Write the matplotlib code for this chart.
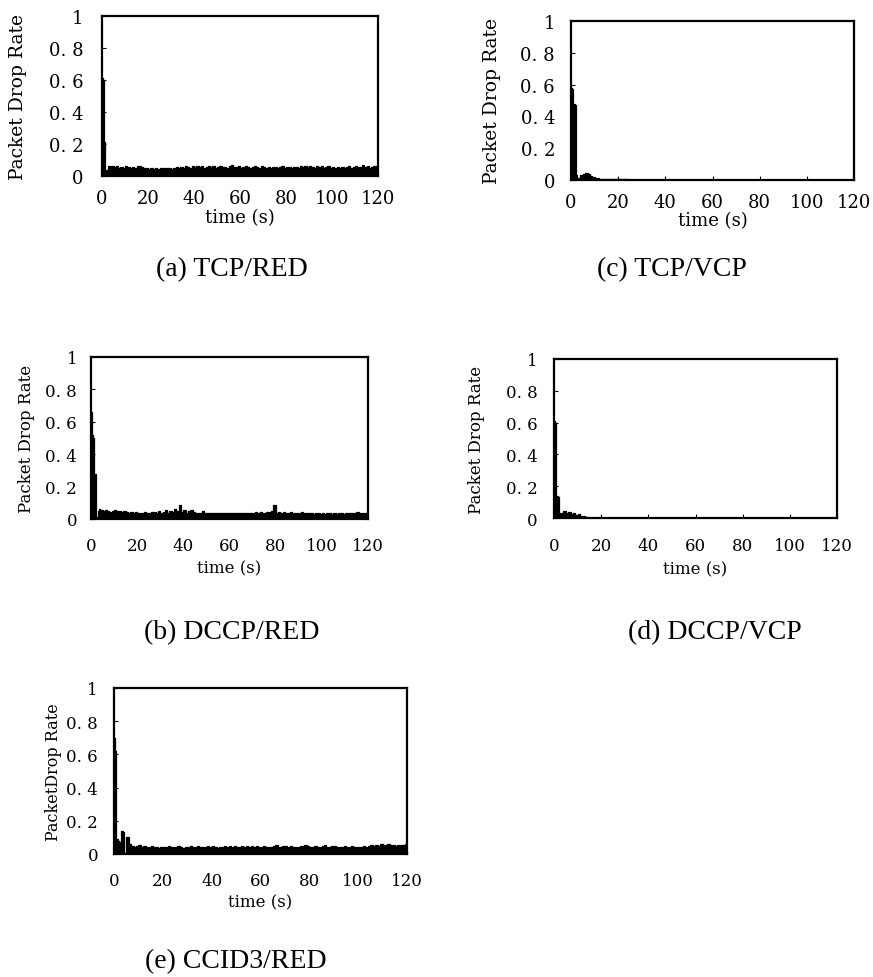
import matplotlib
matplotlib.use("Agg")
import matplotlib.pyplot as plt

# ---------------- data ----------------
time_s = [0, 0.5, 1, 1.5, 2, 2.5, 3, 3.5] + list(range(4, 121))

tcp_red = [0.61, 0.60, 0.21, 0.04, 0.02, 0.065, 0.06, 0.055,
           0.060, 0.055, 0.062, 0.050, 0.058, 0.052, 0.060, 0.055, 0.050, 0.058,
           0.052, 0.060, 0.065, 0.055, 0.050, 0.048, 0.045, 0.050, 0.046, 0.048,
           0.045, 0.050, 0.047, 0.052, 0.048, 0.050, 0.046, 0.052, 0.055, 0.050,
           0.058, 0.052, 0.060, 0.055, 0.050, 0.062, 0.058, 0.065, 0.055, 0.060,
           0.052, 0.058, 0.062, 0.055, 0.060, 0.050, 0.058, 0.063, 0.055, 0.058,
           0.052, 0.060, 0.066, 0.055, 0.058, 0.062, 0.052, 0.057, 0.060, 0.055,
           0.050, 0.058, 0.062, 0.055, 0.052, 0.060, 0.057, 0.050, 0.055, 0.052,
           0.058, 0.054, 0.050, 0.056, 0.060, 0.052, 0.055, 0.058, 0.050, 0.054,
           0.058, 0.052, 0.060, 0.055, 0.062, 0.058, 0.065, 0.056, 0.052, 0.060,
           0.055, 0.062, 0.050, 0.057, 0.060, 0.053, 0.058, 0.050, 0.055, 0.052,
           0.058, 0.050, 0.055, 0.060, 0.052, 0.057, 0.062, 0.055, 0.058, 0.066,
           0.055, 0.060, 0.052, 0.058, 0.062, 0.055, 0.060]

dccp_red = [0.66, 0.52, 0.50, 0.28, 0.01, 0.01, 0.05, 0.06,
            0.055, 0.050, 0.058, 0.052, 0.045, 0.050, 0.055, 0.048, 0.052, 0.045,
            0.048, 0.042, 0.040, 0.045, 0.038, 0.042, 0.035, 0.040, 0.038, 0.045,
            0.040, 0.035, 0.042, 0.045, 0.038, 0.050, 0.040, 0.045, 0.055, 0.040,
            0.048, 0.042, 0.060, 0.050, 0.085, 0.045, 0.055, 0.040, 0.050, 0.058,
            0.042, 0.038, 0.035, 0.040, 0.050, 0.036, 0.038, 0.035, 0.040, 0.034,
            0.036, 0.038, 0.035, 0.040, 0.036, 0.038, 0.034, 0.036, 0.040, 0.035,
            0.038, 0.036, 0.040, 0.037, 0.035, 0.040, 0.036, 0.042, 0.038, 0.045,
            0.040, 0.038, 0.042, 0.045, 0.050, 0.088, 0.040, 0.045, 0.038, 0.042,
            0.036, 0.040, 0.045, 0.038, 0.040, 0.036, 0.038, 0.042, 0.035, 0.038,
            0.034, 0.036, 0.032, 0.035, 0.038, 0.032, 0.035, 0.030, 0.034, 0.036,
            0.032, 0.035, 0.030, 0.034, 0.036, 0.032, 0.038, 0.034, 0.040, 0.035,
            0.038, 0.042, 0.036, 0.040, 0.035, 0.038, 0.040]

tcp_vcp = [0.58, 0.57, 0.48, 0.47, 0.03, 0.01, 0.012, 0.015,
           0.030, 0.035, 0.045, 0.040, 0.025, 0.020, 0.012, 0.010, 0.008, 0.008,
           0.008, 0.008, 0.007, 0.007, 0.006, 0.006, 0.006, 0.005, 0.005, 0.004,
           0.002, 0.002, 0.001, 0, 0, 0, 0, 0, 0, 0,
           0, 0, 0, 0, 0, 0, 0, 0, 0, 0,
           0, 0, 0, 0, 0, 0, 0, 0, 0, 0,
           0, 0, 0, 0, 0, 0, 0, 0, 0, 0,
           0, 0, 0, 0, 0, 0, 0, 0, 0, 0,
           0, 0, 0, 0, 0, 0, 0, 0, 0, 0,
           0, 0, 0, 0, 0, 0, 0, 0, 0, 0,
           0, 0, 0, 0, 0, 0, 0, 0, 0, 0,
           0, 0, 0, 0, 0, 0, 0, 0, 0, 0,
           0, 0, 0, 0, 0, 0, 0]

dccp_vcp = [0.61, 0.60, 0.14, 0.13, 0.03, 0.025, 0.03, 0.02,
            0.045, 0.030, 0.035, 0.025, 0.030, 0.020, 0.025, 0.015, 0.010, 0.006,
            0.004, 0.003, 0.002, 0.002, 0.001, 0, 0, 0, 0, 0,
            0, 0, 0, 0, 0, 0, 0, 0, 0, 0,
            0, 0, 0, 0, 0, 0, 0, 0, 0, 0,
            0, 0, 0, 0, 0, 0, 0, 0, 0, 0,
            0, 0, 0, 0, 0, 0, 0, 0, 0, 0,
            0, 0, 0, 0, 0, 0, 0, 0, 0, 0,
            0, 0, 0, 0, 0, 0, 0, 0, 0, 0,
            0, 0, 0, 0, 0, 0, 0, 0, 0, 0,
            0, 0, 0, 0, 0, 0, 0, 0, 0, 0,
            0, 0, 0, 0, 0, 0, 0, 0, 0, 0,
            0, 0, 0, 0, 0, 0, 0]

ccid3_red = [0.70, 0.62, 0.09, 0.08, 0.07, 0.06, 0.14, 0.13,
             0.003, 0.100, 0.060, 0.050, 0.045, 0.050, 0.055, 0.045, 0.050, 0.042,
             0.045, 0.050, 0.040, 0.045, 0.038, 0.042, 0.045, 0.040, 0.048, 0.042,
             0.040, 0.045, 0.050, 0.042, 0.038, 0.045, 0.040, 0.048, 0.042, 0.045,
             0.050, 0.042, 0.045, 0.040, 0.048, 0.044, 0.050, 0.042, 0.038, 0.045,
             0.040, 0.048, 0.045, 0.050, 0.042, 0.046, 0.040, 0.045, 0.050, 0.044,
             0.048, 0.042, 0.046, 0.040, 0.050, 0.044, 0.045, 0.048, 0.040, 0.045,
             0.042, 0.048, 0.052, 0.045, 0.040, 0.046, 0.050, 0.044, 0.048, 0.042,
             0.045, 0.040, 0.046, 0.050, 0.055, 0.048, 0.045, 0.042, 0.050, 0.045,
             0.040, 0.048, 0.052, 0.045, 0.042, 0.050, 0.046, 0.040, 0.045, 0.042,
             0.048, 0.040, 0.044, 0.046, 0.042, 0.045, 0.040, 0.045, 0.050, 0.045,
             0.048, 0.052, 0.050, 0.055, 0.050, 0.058, 0.052, 0.055, 0.060, 0.052,
             0.055, 0.050, 0.056, 0.052, 0.055, 0.058, 0.060]

x_ticks = [0, 20, 40, 60, 80, 100, 120]
y_ticks = [0, 0.2, 0.4, 0.6, 0.8, 1]
y_tick_labels = ["0", "0. 2", "0. 4", "0. 6", "0. 8", "1"]

captions = ["(a) TCP/RED", "(c) TCP/VCP", "(b) DCCP/RED", "(d) DCCP/VCP", "(e) CCID3/RED"]
ylabels = ["Packet Drop Rate", "Packet Drop Rate", "Packet Drop Rate",
           "Packet Drop Rate", "PacketDrop Rate"]
series = [tcp_red, tcp_vcp, dccp_red, dccp_vcp, ccid3_red]
xlabel_text = "time (s)"

# ---------------- layout (pixels) ----------------
W, H = 873, 978
fig = plt.figure(figsize=(W / 100, H / 100), dpi=100)
fig.patch.set_facecolor("white")

boxes = [(102, 378, 17, 177), (571, 854, 22, 181), (91, 368, 358, 520),
         (554, 837, 360, 519), (114, 407, 689, 855)]
panel_opts = [
    dict(tfs=13, xpad=9, ypad=13.5, ylx=18, ylfs=13.5, xly=218, cap=(232, 270)),
    dict(tfs=13, xpad=9, ypad=11.5, ylx=492, ylfs=13.5, xly=221, cap=(672, 270)),
    dict(tfs=12, xpad=13, ypad=10, ylx=27, ylfs=12, xly=569, cap=(232, 633)),
    dict(tfs=12, xpad=13.5, ypad=12, ylx=477, ylfs=12, xly=570, cap=(715, 633)),
    dict(tfs=12, xpad=13, ypad=11.5, ylx=53, ylfs=11.5, xly=903, cap=(236, 962)),
]

serif_mono = ["DejaVu Serif"]
cap_font = ["Liberation Serif", "DejaVu Serif"]

for (l, r, t, b), vals, ylab, cap, o in zip(boxes, series, ylabels, captions, panel_opts):
    ax = fig.add_axes([l / W, 1 - b / H, (r - l) / W, (b - t) / H])
    ax.fill_between(time_s, 0, vals, step="post", color="black", lw=0.6)
    ax.plot(time_s, vals, color="black", lw=0.9, drawstyle="steps-post")
    ax.set_xlim(0, 120)
    ax.set_ylim(0, 1)
    ax.set_xticks(x_ticks)
    ax.set_xticklabels([str(v) for v in x_ticks], fontfamily=serif_mono, fontsize=o["tfs"])
    ax.set_yticks(y_ticks)
    ax.set_yticklabels(y_tick_labels, fontfamily=serif_mono, fontsize=o["tfs"])
    ax.tick_params(axis="x", direction="in", length=3, width=0.8, pad=o["xpad"])
    ax.tick_params(axis="y", direction="in", length=3, width=0.8, pad=o["ypad"])
    for sp in ax.spines.values():
        sp.set_linewidth(1.6)
        sp.set_color("black")
    cx = (l + r) / 2
    fig.text(cx / W, 1 - o["xly"] / H, xlabel_text, ha="center", va="center",
             fontfamily=serif_mono, fontsize=o["tfs"])
    fig.text(o["ylx"] / W, 1 - ((t + b) / 2) / H, ylab, ha="center", va="center",
             rotation=90, fontfamily=serif_mono, fontsize=o["ylfs"])
    fig.text(o["cap"][0] / W, 1 - o["cap"][1] / H, cap, ha="center", va="center",
             fontfamily=cap_font, fontsize=20)

fig.savefig("out.png", dpi=100, facecolor="white")
